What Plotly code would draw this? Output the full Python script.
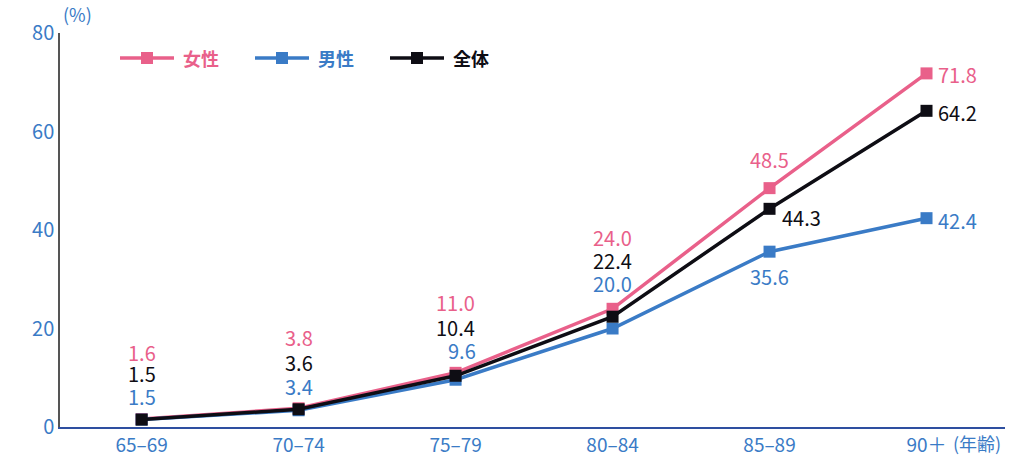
import plotly.graph_objects as go

categories = ["65–69", "70–74", "75–79", "80–84", "85–89", "90＋"]
female = [1.6, 3.8, 11.0, 24.0, 48.5, 71.8]
male = [1.5, 3.4, 9.6, 20.0, 35.6, 42.4]
total = [1.5, 3.6, 10.4, 22.4, 44.3, 64.2]
y_ticks = [0, 20, 40, 60, 80]
series_names = ["女性", "男性", "全体"]

PINK = "#E9608A"
BLUE = "#3A7BC6"
BLACK = "#0E0D14"
FONT = "Noto Sans CJK JP"

# plot-area geometry (pixels)
L, R, T, B = 60, 31, 33, 29
W, H = 1036, 456
PW = W - L - R
PH = H - T - B

# label offsets (style only): (xshift, yshift, xanchor)
off_f = [(0, 67, "center"), (0, 71, "center"), (0, 70, "center"), (0, 71, "center"), (0, 29, "center"), (10, -1, "left")]
off_t = [(0, 46, "center"), (0, 47, "center"), (0, 48, "center"), (0, 56, "center"), (32, -9, "center"), (10, -2, "left")]
off_m = [(0, 23, "center"), (0, 24, "center"), (6, 29, "center"), (0, 45, "center"), (0, -25, "center"), (10, -2, "left")]

xs = list(range(len(categories)))
colors = [PINK, BLUE, BLACK]

fig = go.Figure()
for name, vals, col in zip(series_names, [female, male, total], colors):
    fig.add_trace(go.Scatter(
        x=xs, y=vals, name=name, mode="lines+markers",
        line=dict(color=col, width=3.5),
        marker=dict(symbol="square", size=12, color=col),
        showlegend=False,
    ))

ann = []
for vals, offs, col in [(female, off_f, PINK), (total, off_t, BLACK), (male, off_m, BLUE)]:
    for i, v in enumerate(vals):
        xsh, ysh, xa = offs[i]
        ann.append(dict(x=xs[i], y=v, xref="x", yref="y", text=f"{v:.1f}",
                        showarrow=False, xanchor=xa, yanchor="middle",
                        xshift=xsh, yshift=ysh, borderpad=0,
                        font=dict(family=FONT, size=20, color=col)))

ann.append(dict(x=0, y=1.0, xref="paper", yref="paper", text="(%)", showarrow=False,
                xanchor="left", yanchor="bottom", yshift=4, xshift=1,
                font=dict(family=FONT, size=18, color=BLUE)))
ann.append(dict(x=5, y=0, xref="x", yref="paper", text="(年齢)", showarrow=False,
                xanchor="left", yanchor="middle", xshift=25, yshift=-16, borderpad=0,
                font=dict(family=FONT, size=18, color=BLUE)))

# manual legend (line + square marker + label), positioned in pixels
shapes = []
legend_y = 58
legend_starts = [120, 255, 390]
seg = 54
def px_x(p):
    return (p - L) / PW
def px_y(p):
    return (H - B - p) / PH
for name, col, x0 in zip(series_names, colors, legend_starts):
    shapes.append(dict(type="line", xref="paper", yref="paper",
                       x0=px_x(x0), x1=px_x(x0 + seg), y0=px_y(legend_y), y1=px_y(legend_y),
                       line=dict(color=col, width=3.5)))
    cx = x0 + seg / 2
    shapes.append(dict(type="rect", xref="paper", yref="paper",
                       x0=px_x(cx - 6), x1=px_x(cx + 6), y0=px_y(legend_y + 6), y1=px_y(legend_y - 6),
                       line=dict(width=0), fillcolor=col))
    ann.append(dict(x=px_x(x0 + seg + 7), y=px_y(legend_y), xref="paper", yref="paper",
                    text=f"<b>{name}</b>", showarrow=False, xanchor="left", yanchor="middle",
                    font=dict(family=FONT, size=18, color=col)))

fig.update_layout(
    width=W, height=H,
    margin=dict(l=L, r=R, t=T, b=B),
    paper_bgcolor="white", plot_bgcolor="white",
    font=dict(family=FONT, color=BLUE),
    annotations=ann,
    shapes=shapes,
    showlegend=False,
)
fig.update_xaxes(
    range=[-0.52, 5.5], tickvals=xs, ticktext=categories,
    showline=True, linecolor="#2E4FA0", linewidth=1.5,
    showgrid=False, zeroline=False, ticks="", automargin=False,
    tickfont=dict(family=FONT, size=19, color=BLUE),
)
fig.update_yaxes(
    range=[0, 80], tickvals=y_ticks,
    showline=True, linecolor="#555555", linewidth=1.5,
    showgrid=False, zeroline=False, ticks="", automargin=False,
    tickfont=dict(family=FONT, size=20, color=BLUE),
)

fig.write_html("out.html")
